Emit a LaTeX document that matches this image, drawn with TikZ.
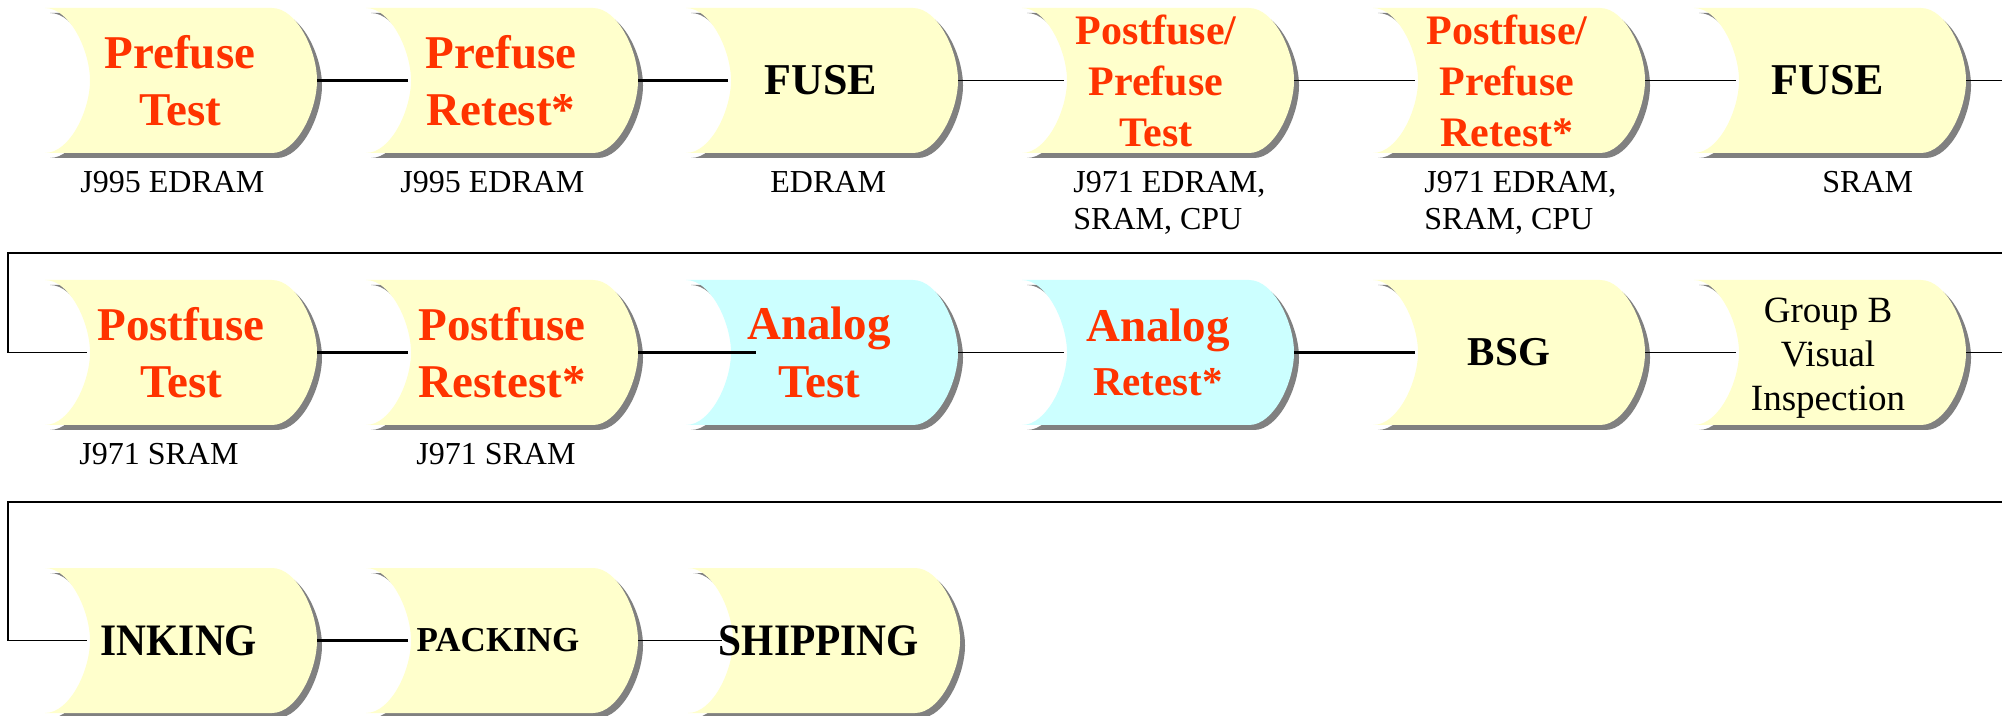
\documentclass[tikz,border=0pt]{standalone}
\usepackage{fontspec}
\setmainfont{Liberation Serif}

\definecolor{stagefill}{HTML}{FFFFCC}
\definecolor{analogfill}{HTML}{CCFFFF}
\definecolor{titlered}{HTML}{FF3300}
\definecolor{shadowgray}{HTML}{808080}

\tikzset{
  % scroll-like outline: concave left side, convex right side
  stage outline/.style 2 args={insert path={
    (#1,#2) -- ({#1+227},#2)
    .. controls ({#1+252},#2) and ({#1+272},{#2+43}) .. ({#1+272},{#2+72.5})
    .. controls ({#1+272},{#2+102}) and ({#1+252},{#2+145}) .. ({#1+227},{#2+145})
    -- (#1,{#2+145})
    .. controls ({#1+25},{#2+145}) and ({#1+45},{#2+102}) .. ({#1+45},{#2+72.5})
    .. controls ({#1+45},{#2+43}) and ({#1+25},#2) .. (#1,#2) -- cycle}},
  redtitle/.style={text=titlered, font=\bfseries\fontsize{23.5}{28.5}\selectfont, align=center, inner sep=0pt},
  redsmall/.style={text=titlered, font=\bfseries\fontsize{21}{25.5}\selectfont, align=center, inner sep=0pt},
  blacktitle/.style={text=black, font=\bfseries\fontsize{22}{26}\selectfont, align=center, inner sep=0pt},
  plaintitle/.style={text=black, font=\fontsize{18.5}{22}\selectfont, align=center, inner sep=0pt},
  subnote/.style={text=black, font=\fontsize{16}{18.5}\selectfont, align=left, anchor=north west, inner sep=0pt},
  link/.style={draw=black, line width=0.85pt},
  heavylink/.style={draw=black, line width=1.3pt},
  loopshadow/.style={draw=black!35, line width=0.85pt, shift={(2,2)}},
}

% #1 name, #2 left, #3 top, #4 fill colour, #5 text style, #6 x offset of text, #7 text
\newcommand\stage[7]{%
  \fill[shadowgray, shift={(5,5)}, stage outline={#2}{#3}];
  \fill[#4, stage outline={#2}{#3}];
  \node[#5] (#1) at ({#2+#6},{#3+72.5}) {#7};
  \coordinate (#1-in) at ({#2+42},{#3+72.5});
  \coordinate (#1-out) at ({#2+272},{#3+72.5});
}

\begin{document}
\begin{tikzpicture}[x=0.5pt, y=-0.5pt]
\useasboundingbox (0,0) rectangle (2002,716);
\fill[white] (0,0) rectangle (2002,716);

% row one
\stage{pretest}{45}{8}{stagefill}{redtitle}{135}{Prefuse\\Test}
\stage{preretest}{366}{8}{stagefill}{redtitle}{135}{Prefuse\\Retest*}
\stage{fuseA}{686}{8}{stagefill}{blacktitle}{135}{FUSE}
\stage{pptest}{1022}{8}{stagefill}{redsmall}{134}{Postfuse/\\Prefuse\\Test}
\stage{ppretest}{1373}{8}{stagefill}{redsmall}{134}{Postfuse/\\Prefuse\\Retest*}
\stage{fuseB}{1694}{8}{stagefill}{blacktitle}{134}{FUSE}

% row two
\stage{posttest}{45}{280}{stagefill}{redtitle}{136}{Postfuse\\Test}
\stage{postretest}{366}{280}{stagefill}{redtitle}{136}{Postfuse\\Restest*}
\stage{analog}{686}{280}{analogfill}{redtitle, font=\bfseries\fontsize{23.5}{29}\selectfont}{133}{Analog\\Test}
\stage{analogre}{1022}{280}{analogfill}{redtitle, font=\bfseries\fontsize{23.5}{27}\selectfont}{136}{Analog\\{\fontsize{20.5}{27}\selectfont Retest*}}
\stage{bsg}{1373}{280}{stagefill}{blacktitle, font=\bfseries\fontsize{20.5}{24}\selectfont}{136}{BSG}
\stage{visual}{1694}{280}{stagefill}{plaintitle, yshift=-3pt}{134}{Group B\\Visual\\Inspection}

% row three
\stage{inking}{45}{568}{stagefill}{blacktitle, font=\bfseries\fontsize{22.5}{26}\selectfont}{134}{\scalebox{0.92}[1]{INKING}}
\stage{packing}{366}{568}{stagefill}{blacktitle, font=\bfseries\fontsize{17.5}{21}\selectfont}{132}{PACKING}
\stage{shipping}{688}{568}{stagefill}{blacktitle, font=\bfseries\fontsize{22.5}{26}\selectfont}{131}{\scalebox{0.92}[1]{SHIPPING}}

% notes under the stages
\node[subnote] (n1) at (80,171) {J995 EDRAM};
\node[subnote] (n2) at (400,171) {J995 EDRAM};
\node[subnote] (n3) at (770,171) {EDRAM};
\node[subnote] (n4) at (1073,171) {J971 EDRAM,\\SRAM, CPU};
\node[subnote] (n5) at (1424,171) {J971 EDRAM,\\SRAM, CPU};
\node[subnote] (n6) at (1822,171) {SRAM};
\node[subnote] (n7) at (79,443) {J971 SRAM};
\node[subnote] (n8) at (416,443) {J971 SRAM};

% ends of the lines that leave the sheet on the right
\coordinate (exitA) at (2002,80.5);
\coordinate (returnA) at (2002,253);
\coordinate (cornerA) at (8,253);
\coordinate (exitB) at (2002,352.5);
\coordinate (returnB) at (2002,502);
\coordinate (cornerB) at (8,502);

% row one connectors
\draw[heavylink] (pretest-out) -- (preretest-in);
\draw[heavylink] (preretest-out) -- (fuseA-in);
\draw[link] (fuseA-out) -- (pptest-in);
\draw[link] (pptest-out) -- (ppretest-in);
\draw[link] (ppretest-out) -- (fuseB-in);
\draw[link] (fuseB-out) -- (exitA);

% return to row two
\draw[loopshadow] (returnA) -- (cornerA) |- (posttest-in);
\draw[link] (returnA) -- (cornerA) |- (posttest-in);

% row two connectors
\draw[heavylink] (posttest-out) -- (postretest-in);
\draw[heavylink] (postretest-out) -- ([xshift=14]analog-in);
\draw[link] (analog-out) -- (analogre-in);
\draw[heavylink] (analogre-out) -- (bsg-in);
\draw[link] (bsg-out) -- (visual-in);
\draw[link] (visual-out) -- (exitB);

% return to row three
\draw[loopshadow] (returnB) -- (cornerB) |- (inking-in);
\draw[link] (returnB) -- (cornerB) |- (inking-in);

% row three connectors
\draw[heavylink] (inking-out) -- (packing-in);
\draw[link] (packing-out) -- ([xshift=-4]shipping-in);
\end{tikzpicture}
\end{document}
